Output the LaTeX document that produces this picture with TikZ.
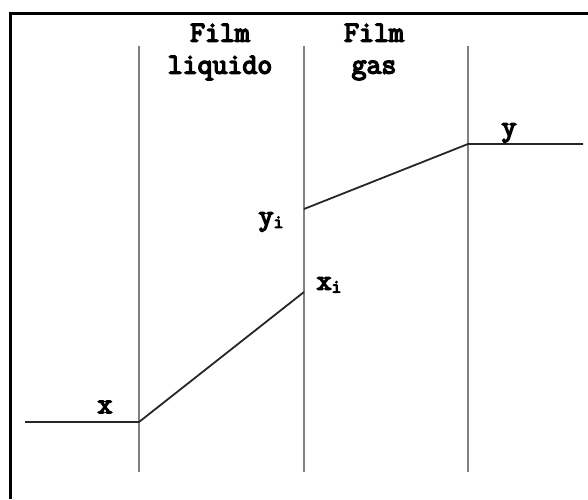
\documentclass[tikz,border=0pt]{standalone}
\usepackage{fontspec}
\newfontfamily\labfont[FakeBold=5]{Latin Modern Mono}
\begin{document}
\begin{tikzpicture}[x=1pt,y=1pt,
  film/.style={draw=black!50,line width=1.8pt},
  curve/.style={draw=black!85,line width=1.8pt},
  lab/.style={font=\labfont\fontsize{29}{32}\selectfont,inner sep=0pt}]
\useasboundingbox (0,0) rectangle (588,499);
% frame
\draw[line width=3pt] (10,0) -- (10,485) -- (588,485);
% film boundaries
\coordinate (a1) at (139,453); \coordinate (a2) at (139,27);
\coordinate (b1) at (304,453); \coordinate (b2) at (304,27);
\coordinate (c1) at (468,453); \coordinate (c2) at (468,27);
\draw[film] (a1) -- (a2);
\draw[film] (b1) -- (b2);
\draw[film] (c1) -- (c2);
% profile
\coordinate (p0) at (25,77);
\coordinate (p1) at (139,77);
\coordinate (p2) at (304,207);
\coordinate (q0) at (304,290);
\coordinate (q1) at (468,355);
\coordinate (q2) at (583,355);
\draw[curve] (p0) -- (p1) -- (p2);
\draw[curve] (q0) -- (q1) -- (q2);
% labels
\node[lab,align=center] (tl) at (220,447) {Film\\liquido};
\node[lab,align=center] (tg) at (374,447) {Film\\gas};
\node[lab] (lx) at (105,92) {x};
\node[lab] (ly) at (509,366) {y};
\node[lab] (lyi) at (271,277) {y{\fontsize{19}{19}\selectfont\raisebox{-3pt}{i}}};
\node[lab] (lxi) at (329,214) {x{\fontsize{19}{19}\selectfont\raisebox{-3pt}{i}}};
\end{tikzpicture}
\end{document}
